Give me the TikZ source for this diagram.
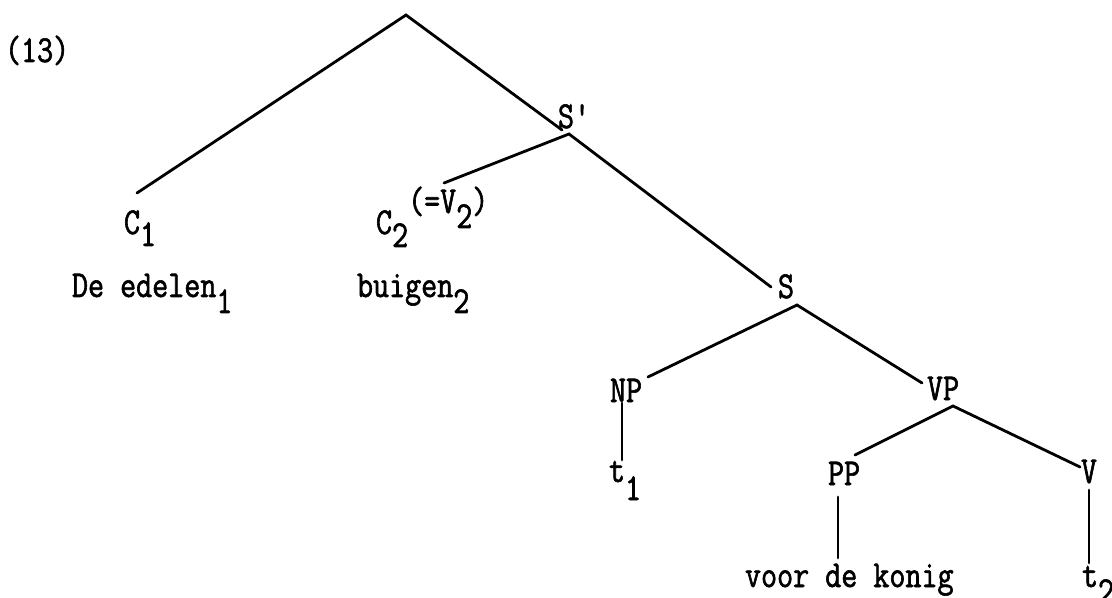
\documentclass[tikz,border=0pt]{standalone}
\usepackage{fontspec}
\newfontfamily\tw{Latin Modern Mono}[FakeBold=1.6, FakeStretch=0.82]
\tikzset{
  lbl/.style={anchor=base west, inner sep=0pt, outer sep=0pt,
    font=\fontsize{19}{22}\selectfont\tw},
  edge/.style={line width=1.4pt, line cap=round}
}
\newcommand{\lowr}[2][7.5pt]{\raisebox{-#1}{#2}}
\begin{document}
\begin{tikzpicture}[x=0.5pt,y=-0.5pt]
\useasboundingbox (0,0) rectangle (1112,598);
% labels
\node[lbl] (ex) at (5,62) {(13)};
\node[lbl] (Sp) at (558,128) {S'};
\node[lbl] (C1) at (124,234) {C\lowr[6pt]{1}};
\node[lbl] (C2) at (376,234) {C\lowr[6.5pt]{2}\raisebox{10.5pt}{(=V\lowr[7.5pt]{2})}};
\node[lbl] (w1) at (72,297) {De edelen\lowr[8pt]{1}};
\node[lbl] (w2) at (357,297) {buigen\lowr[8pt]{2}};
\node[lbl] (S) at (778,298) {S};
\node[lbl] (NP) at (610,402) {NP};
\node[lbl] (VP) at (927,400) {VP};
\node[lbl] (t1) at (609,482) {t\lowr[9pt]{1}};
\node[lbl] (PP) at (828,485) {PP};
\node[lbl] (V) at (1081,483) {V};
\node[lbl] (w3) at (745,587) {voor de konig};
\node[lbl] (t2) at (1082,587) {t\lowr[8pt]{2}};
% connector end points
\coordinate (top) at (406,15);
\coordinate (C1t) at (137,193);
\coordinate (Spl) at (562,130);
\coordinate (Spb) at (569,134);
\coordinate (C2t) at (444,183);
\coordinate (St) at (771,287);
\coordinate (Sb) at (797,305);
\coordinate (NPt) at (648,377);
\coordinate (NPb) at (622,403);
\coordinate (t1t) at (622,460);
\coordinate (VPt) at (922,383);
\coordinate (VPb) at (953,406);
\coordinate (PPt) at (855,455);
\coordinate (PPb) at (838,497);
\coordinate (w3t) at (838,558);
\coordinate (Vt) at (1080,467);
\coordinate (Vb) at (1089,490);
\coordinate (t2t) at (1089,563);
% connectors
\draw[edge] (C1t) -- (top) -- (Spl);
\draw[edge] (C2t) -- (Spb) -- (St);
\draw[edge] (NPt) -- (Sb) -- (VPt);
\draw[edge] (NPb) -- (t1t);
\draw[edge] (PPt) -- (VPb) -- (Vt);
\draw[edge] (PPb) -- (w3t);
\draw[edge] (Vb) -- (t2t);
\end{tikzpicture}
\end{document}
